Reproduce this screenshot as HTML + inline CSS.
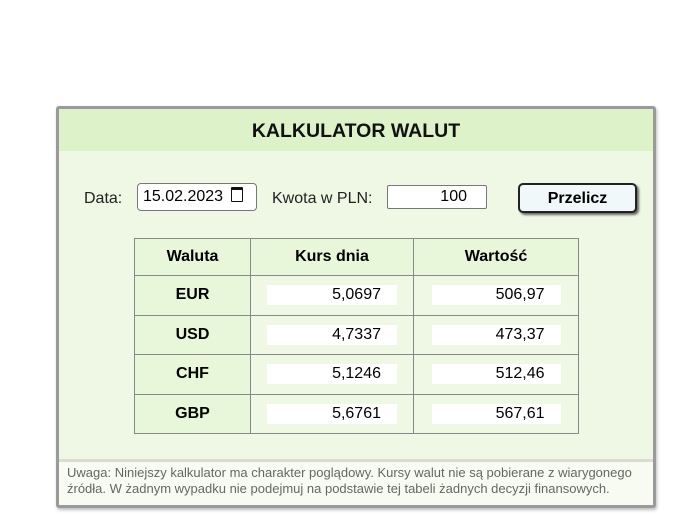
<!DOCTYPE html>
<html><head><meta charset="utf-8"><style>
body{margin:0;width:680px;height:529px;background:#fff;font-family:"Liberation Sans",sans-serif;position:relative;overflow:hidden}
.a{position:absolute}
#box{left:56px;top:106px;width:594px;height:396px;border:3px solid #9a9a9a;border-radius:3px;background:#eff8e4;box-shadow:1px 2px 3px #bbb}
#hdr{left:0;top:0;width:594px;height:42px;background:#ddf2c8;font-weight:bold;font-size:19.5px;text-align:center;line-height:44px;color:#111}
.lbl{font-size:16px;color:#222}
.inp{background:#fff;border:1px solid #777;font-size:16px;box-sizing:border-box}
#btn{left:459px;top:74px;width:119px;height:30px;border:2px solid #222;border-radius:5px;background:#f0f8fa;box-shadow:2px 2px 2px #666;font-weight:bold;font-size:16px;text-align:center;line-height:27px;box-sizing:border-box}
table{position:absolute;left:75px;top:129px;border-collapse:collapse;font-size:16px}
td,th{border:1px solid #888;text-align:center;padding:0}
th{height:36px;background:#e8f6da}
td{height:38.5px}
td.c{background:#e8f6da;font-weight:bold}
.v{display:inline-block;background:#fff;width:130px;height:20px;line-height:20px;text-align:right;box-sizing:border-box;padding-right:16px}
#note{left:0;top:350px;width:594px;height:46px;background:#f8fbf2;border-top:3px solid #d8dcd2;box-sizing:border-box;font-size:13px;color:#666;padding:3px 8px;line-height:16px}
</style></head><body>
<div id="box" class="a">
<div id="hdr" class="a">KALKULATOR WALUT</div>
<div class="a lbl" style="left:25px;top:81px">Data:</div>
<div class="a inp" style="left:78px;top:74px;width:120px;height:28px;border-radius:4px;padding:3px 5px;line-height:20px">15.02.2023 <span style="display:inline-block;width:10px;height:11px;border:1.5px solid #111;border-top-width:3px;vertical-align:-1px;margin-left:3px;border-radius:1px"></span></div>
<div class="a lbl" style="left:213px;top:81px">Kwota w PLN:</div>
<div class="a inp" style="left:328px;top:76px;width:100px;height:24px;text-align:right;padding-right:19px;line-height:22px;border-radius:2px">100</div>
<div id="btn" class="a">Przelicz</div>
<table>
<tr><th style="width:115px">Waluta</th><th style="width:162px">Kurs dnia</th><th style="width:164px">Wartość</th></tr>
<tbody id="rows"></tbody>
</table>
<div id="note" class="a">Uwaga: Niniejszy kalkulator ma charakter poglądowy. Kursy walut nie są pobierane z wiarygonego źródła. W żadnym wypadku nie podejmuj na podstawie tej tabeli żadnych decyzji finansowych.</div>
</div>
<script>
const currencies=["EUR","USD","CHF","GBP"];
const rates=["5,0697","4,7337","5,1246","5,6761"];
const values=["506,97","473,37","512,46","567,61"];
const tb=document.getElementById('rows');
currencies.forEach((c,i)=>{
 const tr=document.createElement('tr');
 
 
 const a=document.createElement('td');a.className='c';a.textContent=c;
 
 
 const b=document.createElement('td');const bs=document.createElement('span');bs.className='v';bs.textContent=rates[i];b.appendChild(bs);
 
 
 const d=document.createElement('td');const ds=document.createElement('span');ds.className='v';ds.style.width='129px';ds.textContent=values[i];d.appendChild(ds);
 
 
 tr.append(a,b,d);tb.appendChild(tr);
});
</script>
</body></html>
